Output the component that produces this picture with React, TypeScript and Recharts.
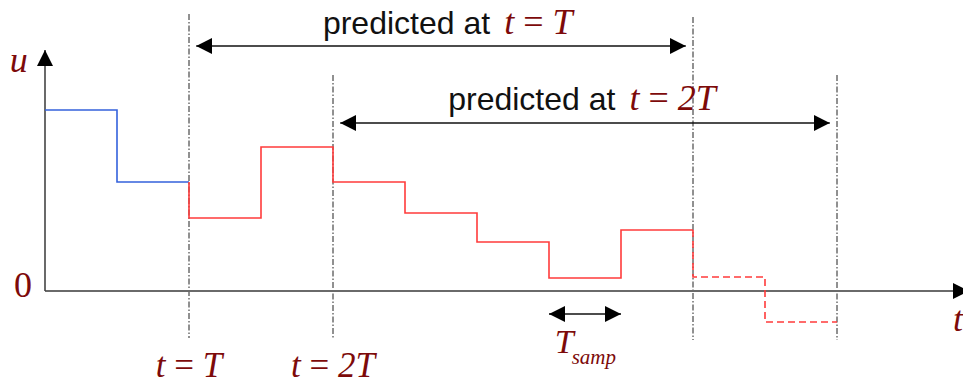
import {
  ComposedChart,
  Line,
  ReferenceDot,
  ReferenceLine,
  XAxis,
  YAxis,
} from 'recharts'

// control input levels, one per sampling period (in units of Tsamp)
const pastInput = [1.81, 1.09] // applied before t = T
const predictedInput = [0.73, 1.44, 1.09, 0.78, 0.49, 0.13, 0.61] // predicted at t = T
const tailInput = [0.14, -0.31] // extra part of horizon predicted at t = 2T

const xTicks = [2, 4]
const xTickLabels = ['T', '2T']
const yTicks = [0]

// sample index where each horizon starts / ends
const horizons = [
  { from: 2, to: 9, label: 'T' },
  { from: 4, to: 11, label: '2T' },
]

const W = 963
const H = 385
const RED = '#ff3b3b'
const BLUE = '#3462dc'
const MATH = '#7d0a0a'
const SERIF = '"Liberation Serif", "Times New Roman", serif'
const SANS = '"Liberation Sans", Arial, sans-serif'

type Pt = { t: number; u: number }

// step points: optional join from previous level, then one point per sample
function steps(levels: number[], start: number, prev?: number): Pt[] {
  const pts: Pt[] = []
  if (prev !== undefined) pts.push({ t: start, u: prev })
  levels.forEach((v, i) => pts.push({ t: start + i, u: v }))
  pts.push({ t: start + levels.length, u: levels[levels.length - 1] })
  return pts
}

const bluePts = steps(pastInput, 0)
const redPts = steps(predictedInput, pastInput.length, pastInput[pastInput.length - 1])
const tailPts = steps(
  tailInput,
  pastInput.length + predictedInput.length,
  predictedInput[predictedInput.length - 1],
)

function XTick(props: any) {
  const i = xTicks.indexOf(props.payload?.value)
  return (
    <text x={props.x} y={props.y} dy={24} textAnchor="middle" fontFamily={SERIF} fontSize={35} fill={MATH}>
      <tspan fontStyle="italic">t</tspan>
      <tspan> = </tspan>
      <tspan fontStyle="italic">{xTickLabels[i]}</tspan>
    </text>
  )
}

function YTick(props: any) {
  return (
    <text x={Number(props.x) - 5} y={props.y} dy={6} textAnchor="end" fontFamily={SERIF} fontSize={36} fill={MATH}>
      {props.payload?.value}
    </text>
  )
}

const arrowLine = (marker: string, start?: string) => (p: any) => (
  <line
    x1={p.x1}
    y1={p.y1}
    x2={p.x2}
    y2={p.y2}
    stroke="#111"
    strokeWidth={1.5}
    markerEnd={`url(#${marker})`}
    markerStart={start ? `url(#${start})` : undefined}
  />
)

export default function App() {
  return (
    <div style={{ position: 'absolute', left: 0, top: 0, width: W, height: H, background: '#fff' }}>
      <svg width={0} height={0} style={{ position: 'absolute' }}>
        <defs>
          <marker id="ah" viewBox="0 0 16 16" refX={16} refY={8} markerWidth={16} markerHeight={16} markerUnits="userSpaceOnUse" orient="auto-start-reverse">
            <path d="M0,0 L16,8 L0,16 z" fill="#000" />
          </marker>
          <marker id="ahx" viewBox="0 0 16 16" refX={10} refY={8} markerWidth={16} markerHeight={16} markerUnits="userSpaceOnUse" orient="auto">
            <path d="M0,0 L16,8 L0,16 z" fill="#000" />
          </marker>
        </defs>
      </svg>
      <ComposedChart width={W} height={H} margin={{ top: 0, right: 0, bottom: 0, left: 0 }}>
        <XAxis
          type="number"
          dataKey="t"
          domain={[0, 12.75]}
          allowDataOverflow
          ticks={xTicks}
          tick={<XTick />}
          axisLine={false}
          tickLine={false}
          height={40}
        />
        <YAxis
          type="number"
          domain={[-0.54, 2.91]}
          allowDataOverflow
          ticks={yTicks}
          tick={<YTick />}
          axisLine={false}
          tickLine={false}
          width={45}
        />

        {/* horizon boundaries */}
        {horizons.map(h => (
          <ReferenceLine
            key={`a${h.from}`}
            segment={[{ x: h.from, y: h.from === 2 ? 2.77 : 2.16 }, { x: h.from, y: -0.47 }]}
            stroke="#222"
            strokeDasharray="6 2 1.5 2"
          />
        ))}
        {horizons.map(h => (
          <ReferenceLine
            key={`b${h.to}`}
            segment={[{ x: h.to, y: h.from === 2 ? 2.74 : 2.16 }, { x: h.to, y: -0.49 }]}
            stroke="#222"
            strokeDasharray="6 2 1.5 2"
          />
        ))}

        {/* axes with arrows */}
        <ReferenceLine segment={[{ x: 0, y: 0 }, { x: 12.75, y: 0 }]} shape={(p: any) => (
          <line x1={p.x1} y1={p.y1} x2={p.x2} y2={p.y2} stroke="#6a6a6a" strokeWidth={2.2} markerEnd="url(#ahx)" />
        )} />
        <ReferenceLine segment={[{ x: 0, y: 0 }, { x: 0, y: 2.41 }]} shape={(p: any) => (
          <line x1={p.x1} y1={p.y1} x2={p.x2} y2={p.y2} stroke="#444" strokeWidth={1.6} markerEnd="url(#ah)" />
        )} />

        {/* prediction horizon arrows */}
        <ReferenceLine segment={[{ x: 2.1, y: 2.45 }, { x: 8.9, y: 2.45 }]} shape={arrowLine('ah', 'ah')} />
        <ReferenceLine segment={[{ x: 4.1, y: 1.68 }, { x: 10.9, y: 1.68 }]} shape={arrowLine('ah', 'ah')} />
        <ReferenceLine segment={[{ x: 7, y: -0.23 }, { x: 8, y: -0.23 }]} shape={arrowLine('ah', 'ah')} />

        <Line data={bluePts} dataKey="u" type="stepAfter" stroke={BLUE} strokeWidth={1.6} dot={false} activeDot={false} isAnimationActive={false} />
        <Line data={redPts} dataKey="u" type="stepAfter" stroke={RED} strokeWidth={1.6} dot={false} activeDot={false} isAnimationActive={false} />
        <Line data={tailPts} dataKey="u" type="stepAfter" stroke={RED} strokeWidth={1.6} strokeDasharray="7 4" dot={false} activeDot={false} isAnimationActive={false} />

        {/* labels */}
        {horizons.map((h, i) => (
          <ReferenceDot
            key={h.label}
            x={i === 0 ? 3.86 : 5.6}
            y={i === 0 ? 2.57 : 1.81}
            r={0}
            ifOverflow="visible"
            shape={(p: any) => (
              <text x={p.cx} y={p.cy} fontFamily={SANS} fontSize={32} fill="#111">
                predicted at
                <tspan dx={14} fontFamily={SERIF} fontSize={36} fill={MATH} fontStyle="italic">t</tspan>
                <tspan fontFamily={SERIF} fontSize={36} fill={MATH}> = </tspan>
                <tspan fontFamily={SERIF} fontSize={36} fill={MATH} fontStyle="italic">{h.label}</tspan>
              </text>
            )}
          />
        ))}
        <ReferenceDot x={-0.49} y={2.19} r={0} ifOverflow="visible" shape={(p: any) => (
          <text x={p.cx} y={p.cy} fontFamily={SERIF} fontSize={36} fontStyle="italic" fill={MATH}>u</text>
        )} />
        <ReferenceDot x={12.61} y={-0.4} r={0} ifOverflow="visible" shape={(p: any) => (
          <text x={p.cx} y={p.cy} fontFamily={SERIF} fontSize={36} fontStyle="italic" fill={MATH}>t</text>
        )} />
        <ReferenceDot x={7.08} y={-0.62} r={0} ifOverflow="visible" shape={(p: any) => (
          <text x={p.cx} y={p.cy} fontFamily={SERIF} fontStyle="italic" fill={MATH}>
            <tspan fontSize={34}>T</tspan>
            <tspan dx={-2} dy={11} fontSize={21}>samp</tspan>
          </text>
        )} />
      </ComposedChart>
    </div>
  )
}
